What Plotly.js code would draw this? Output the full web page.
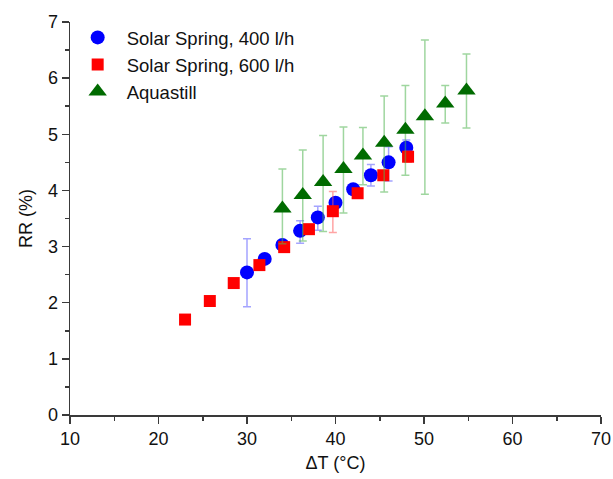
<!DOCTYPE html>
<html>
<head>
<meta charset="utf-8">
<script src="https://cdn.plot.ly/plotly-3.0.1.min.js"></script>
<style>html,body{margin:0;padding:0;background:#fff;}#chart{width:613px;height:479px;}</style>
</head>
<body>
<div id="chart"></div>
<script>
// Solar Spring, 400 l/h
const ss400_dT    = [30.0, 32.0, 34.0, 36.0, 38.0, 40.0, 42.0, 44.0, 46.0, 48.0];
const ss400_RR    = [2.54, 2.78, 3.03, 3.28, 3.52, 3.78, 4.02, 4.27, 4.50, 4.76];
const ss400_upper = [3.14, 2.83, 3.08, 3.46, 3.72, 3.83, 4.07, 4.46, 4.78, 4.90];
const ss400_lower = [1.93, 2.73, 2.98, 3.06, 3.29, 3.73, 3.97, 4.08, 4.17, 4.62];

// Solar Spring, 600 l/h
const ss600_dT    = [23.0, 25.8, 28.5, 31.4, 34.2, 37.0, 39.7, 42.5, 45.4, 48.2];
const ss600_RR    = [1.70, 2.03, 2.35, 2.67, 2.99, 3.31, 3.63, 3.95, 4.27, 4.60];
const ss600_upper = [1.73, 2.06, 2.38, 2.74, 3.06, 3.36, 3.98, 4.00, 4.32, 4.70];
const ss600_lower = [1.67, 2.00, 2.32, 2.60, 2.92, 3.26, 3.25, 3.90, 4.22, 4.50];

// Aquastill
const aq_dT    = [34.0, 36.3, 38.6, 40.9, 43.1, 45.5, 47.9, 50.1, 52.4, 54.8];
const aq_RR    = [3.68, 3.92, 4.15, 4.38, 4.62, 4.85, 5.08, 5.32, 5.55, 5.78];
const aq_upper = [4.38, 4.72, 4.98, 5.13, 5.12, 5.68, 5.87, 6.68, 5.87, 6.43];
const aq_lower = [3.05, 3.10, 3.27, 3.60, 4.10, 3.97, 4.27, 3.93, 5.20, 5.11];

const seriesNames = ['Solar Spring, 400 l/h', 'Solar Spring, 600 l/h', 'Aquastill'];
const xTitle = '\u0394T (\u00b0C)';
const yTitle = 'RR (%)';

function errs(y, up, lo, color) {
  return {
    type: 'data', symmetric: false,
    array: up.map((u, i) => u - y[i]),
    arrayminus: lo.map((l, i) => y[i] - l),
    color: color, thickness: 1.5, width: 4
  };
}

const traces = [
  {x: ss400_dT, y: ss400_RR, name: seriesNames[0], type: 'scatter', mode: 'markers',
   marker: {symbol: 'circle', size: 14, color: '#0000ff'},
   error_y: errs(ss400_RR, ss400_upper, ss400_lower, 'rgba(90,90,255,0.55)')},
  {x: ss600_dT, y: ss600_RR, name: seriesNames[1], type: 'scatter', mode: 'markers',
   marker: {symbol: 'square', size: 12, color: '#ff0000'},
   error_y: errs(ss600_RR, ss600_upper, ss600_lower, 'rgba(255,90,90,0.55)')},
  {x: aq_dT, y: aq_RR, name: seriesNames[2], type: 'scatter', mode: 'markers',
   marker: {symbol: 'triangle-up', size: 16, color: '#006b00'},
   error_y: errs(aq_RR, aq_upper, aq_lower, 'rgba(80,180,80,0.55)')}
];

const font = {family: 'Arial, "Liberation Sans", sans-serif', size: 18, color: '#111'};

const layout = {
  width: 613, height: 479,
  margin: {l: 70, r: 12, t: 22, b: 64},
  paper_bgcolor: '#fff', plot_bgcolor: '#fff',
  font: font,
  showlegend: true,
  legend: {x: -0.0025, y: 1.008, xanchor: 'left', yanchor: 'top',
           itemwidth: 48,
           font: {family: font.family, size: 18.5, color: '#111'},
           bgcolor: 'rgba(0,0,0,0)', tracegroupgap: 0},
  xaxis: {
    range: [10, 70], dtick: 10, tick0: 10,
    showline: true, linecolor: '#3a3a3a', linewidth: 1.5,
    ticks: 'outside', ticklen: 7, tickwidth: 1.5, tickcolor: '#3a3a3a',
    minor: {ticks: 'outside', ticklen: 4, dtick: 5, tickwidth: 1.5, tickcolor: '#3a3a3a'},
    showgrid: false, zeroline: false,
    title: {text: xTitle, font: {size: 18}, standoff: 8}
  },
  yaxis: {
    range: [0, 7], dtick: 1,
    showline: true, linecolor: '#3a3a3a', linewidth: 1.5,
    ticks: 'outside', ticklen: 7, tickwidth: 1.5, tickcolor: '#3a3a3a',
    minor: {ticks: 'outside', ticklen: 4, dtick: 0.5, tickwidth: 1.5, tickcolor: '#3a3a3a'},
    showgrid: false, zeroline: false,
    title: {text: yTitle, font: {size: 18}, standoff: 10}
  }
};

Plotly.newPlot('chart', traces, layout, {displayModeBar: false, staticPlot: true});
</script>
</body>
</html>
